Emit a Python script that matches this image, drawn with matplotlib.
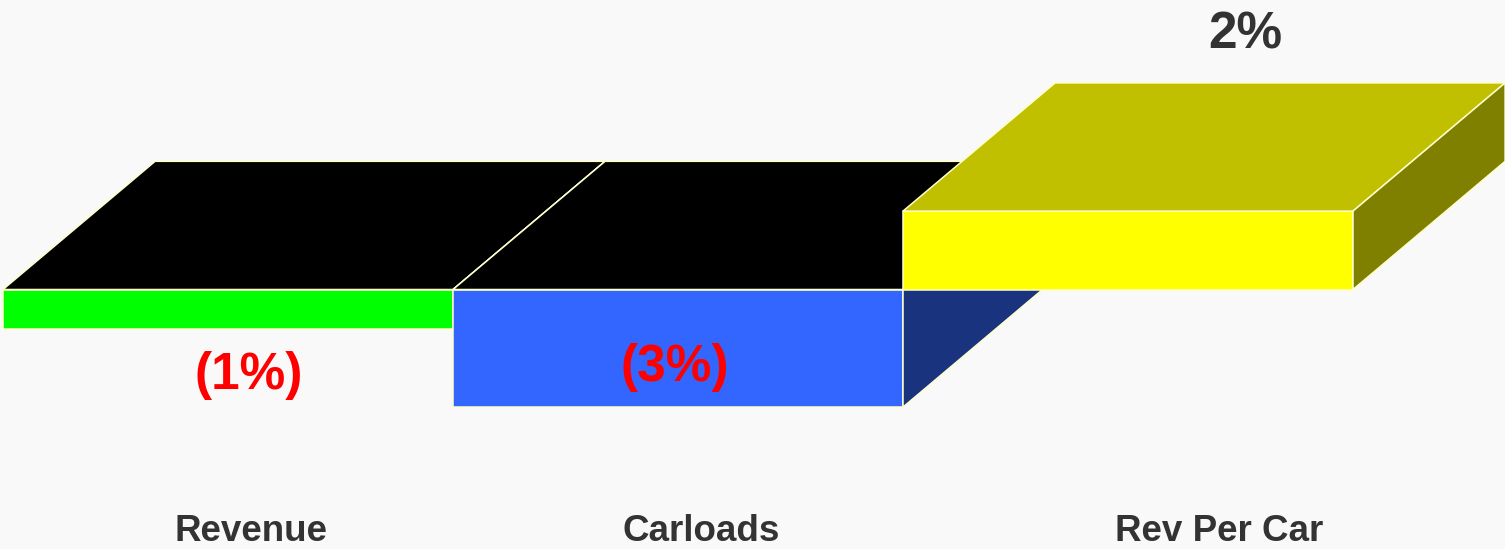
import matplotlib.pyplot as plt
from matplotlib.patches import Polygon

categories = ['Revenue', 'Carloads', 'Rev Per Car']
values = [-1, -3, 2]
value_labels = ['(1%)', '(3%)', '2%']

front_colors = ['#00ff00', '#3366ff', '#ffff00']
top_colors = ['#000000', '#000000', '#c0c000']
side_colors = ['#008000', '#1a337f', '#808000']
label_colors = ['#ff0000', '#ff0000', '#333333']

# where the labels sit (data units), tuned by eye
value_label_xy = [(0.547, -2.54), (1.493, -2.33), (2.76, 6.15)]
category_label_x = [0.551, 1.551, 2.702]
category_label_y = -6.42

bar_w = 1.0
dx, dy = 0.338, 3.27  # 3d depth offset

fig = plt.figure(figsize=(15.05, 5.49), dpi=100, facecolor='#f9f9f9')
ax = fig.add_axes([0, 0, 1, 1])
ax.set_facecolor('#f9f9f9')
ax.set_xlim(-3 / 450, 1502 / 450)
ax.set_ylim(-259.5 / 39.2, 289.5 / 39.2)
ax.axis('off')

edge = dict(edgecolor='#ffffcc', linewidth=1.1, joinstyle='round')
for i, v in enumerate(values):
    x0, x1 = i, i + bar_w
    top = max(v, 0)
    # front
    ax.add_patch(Polygon([(x0, 0), (x1, 0), (x1, v), (x0, v)],
                         facecolor=front_colors[i], **edge))
    # top
    ax.add_patch(Polygon([(x0, top), (x1, top), (x1 + dx, top + dy), (x0 + dx, top + dy)],
                         facecolor=top_colors[i], **edge))
    # side
    ax.add_patch(Polygon([(x1, 0), (x1 + dx, dy), (x1 + dx, v + dy), (x1, v)],
                         facecolor=side_colors[i], **edge))

for (x, y), s, c in zip(value_label_xy, value_labels, label_colors):
    ax.text(x, y, s, ha='center', va='baseline', fontsize=37, fontweight='bold',
            color=c, family='Liberation Sans')

for x, s in zip(category_label_x, categories):
    ax.text(x, category_label_y, s, ha='center', va='baseline', fontsize=26.5,
            fontweight='bold', color='#333333', family='Liberation Sans')

fig.savefig('out.png', dpi=100, facecolor=fig.get_facecolor())
